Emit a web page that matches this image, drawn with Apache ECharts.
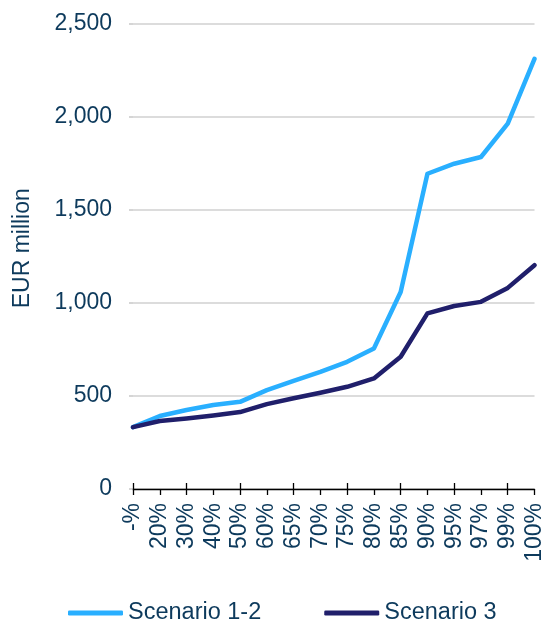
<!DOCTYPE html>
<html>
<head>
<meta charset="utf-8">
<script src="https://cdn.jsdelivr.net/npm/echarts@6/dist/echarts.min.js"></script>
<style>
  html, body { margin: 0; padding: 0; background: #ffffff; }
  #chart { width: 546px; height: 622px; }
</style>
</head>
<body>
<div id="chart"></div>
<script>
// Percentile categories along the x axis
const categories = ['-%', '20%', '30%', '40%', '50%', '60%', '65%', '70%', '75%', '80%', '85%', '90%', '95%', '97%', '99%', '100%'];

// EUR million per percentile
const scenario12 = [332, 392, 424, 451, 468, 531, 581, 629, 683, 755, 1058, 1693, 1747, 1783, 1962, 2310];
const scenario3 = [332, 365, 379, 395, 413, 456, 487, 517, 549, 594, 710, 943, 983, 1005, 1080, 1202];

const seriesNames = ['Scenario 1-2', 'Scenario 3'];
const yTicks = { min: 0, max: 2500, interval: 500 };

const textColor = '#0d3a5c';
const font = 'Liberation Sans, Arial, sans-serif';
const axisFontSize = 23;

const chart = echarts.init(document.getElementById('chart'), null, { renderer: 'canvas' });

chart.setOption({
  animation: false,
  backgroundColor: '#ffffff',
  textStyle: { fontFamily: font, color: textColor },
  grid: { left: 133, right: 7, top: 23.5, bottom: 133, containLabel: false },
  legend: {
    left: 68,
    top: 601,
    padding: 0,
    itemWidth: 55,
    itemHeight: 5,
    itemGap: 63,
    icon: 'roundRect',
    textStyle: { fontFamily: font, fontSize: 23.5, color: textColor },
    data: seriesNames
  },
  xAxis: [
    {
      type: 'category',
      data: categories,
      boundaryGap: false,
      axisLine: { lineStyle: { color: '#000000', width: 1.3 } },
      axisTick: { show: true, length: 6, lineStyle: { color: '#000000', width: 1.3 } },
      axisLabel: {
        rotate: 90,
        margin: 14,
        fontFamily: font,
        fontSize: axisFontSize,
        color: textColor,
        interval: 0
      },
      splitLine: { show: false }
    },
    {
      // inner half of the crossing tick marks
      type: 'category',
      data: categories,
      boundaryGap: false,
      position: 'bottom',
      axisLine: { show: false },
      axisTick: { show: true, inside: true, length: 6, lineStyle: { color: '#000000', width: 1.3 } },
      axisLabel: { show: false },
      splitLine: { show: false }
    }
  ],
  yAxis: {
    type: 'value',
    min: yTicks.min,
    max: yTicks.max,
    interval: yTicks.interval,
    name: 'EUR million',
    nameLocation: 'middle',
    nameGap: 99,
    nameRotate: 90,
    nameTextStyle: { fontFamily: font, fontSize: axisFontSize, color: textColor, padding: [0, 0, 0, 16] },
    axisLine: { show: false },
    axisTick: { show: true, length: 4, lineStyle: { color: '#c8c8c8', width: 1.5 } },
    axisLabel: {
      margin: 21,
      fontFamily: font,
      fontSize: axisFontSize,
      color: textColor,
      formatter: v => v.toLocaleString('en-US')
    },
    splitLine: { lineStyle: { color: '#d0d0d0', width: 1.5 } }
  },
  series: [
    {
      name: seriesNames[0],
      type: 'line',
      data: scenario12,
      symbol: 'none',
      color: '#29afff',
      lineStyle: { color: '#29afff', width: 4.5, cap: 'round', join: 'round' },
      z: 3
    },
    {
      name: seriesNames[1],
      type: 'line',
      data: scenario3,
      symbol: 'none',
      color: '#201f6b',
      lineStyle: { color: '#201f6b', width: 4.5, cap: 'round', join: 'round' },
      z: 4
    }
  ]
});
</script>
</body>
</html>
